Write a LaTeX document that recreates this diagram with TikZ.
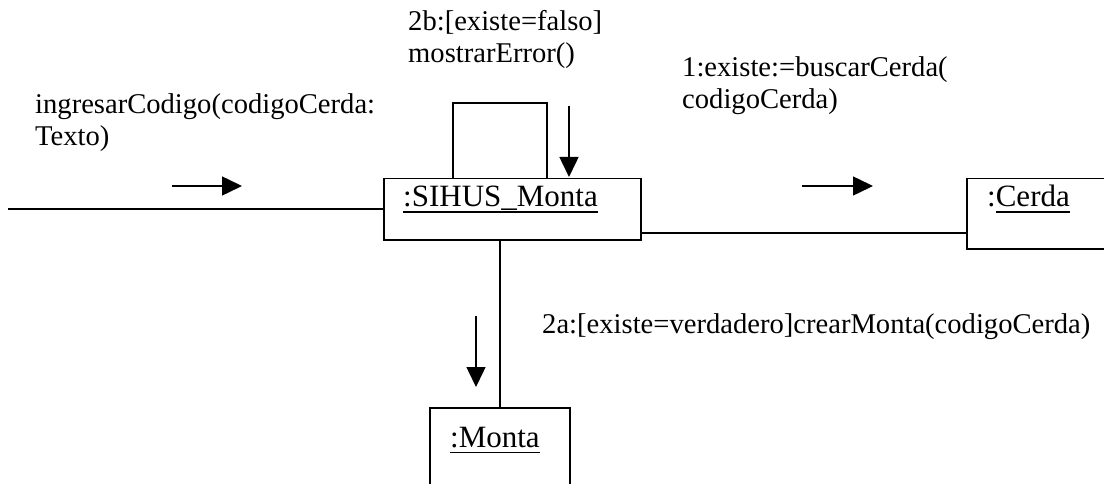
\documentclass[tikz,border=0pt]{standalone}
\usepackage{fontspec}
\setmainfont{Liberation Serif}
\usetikzlibrary{arrows.meta}
\newcommand\myul[1]{\setbox0\hbox{#1}\rlap{\rule[-6pt]{\wd0}{1.5pt}}\box0}
\tikzset{
  objbox/.style={draw, line width=1.5pt, inner sep=0pt, anchor=north west},
  link/.style={line width=1.5pt},
  msg/.style={line width=1.5pt, -{Triangle[length=20pt,width=19pt]}},
  lbl/.style={inner sep=0pt, anchor=base west, font=\fontsize{28.6pt}{32pt}\selectfont},
  objlbl/.style={inner sep=0pt, anchor=base west, font=\fontsize{31pt}{34pt}\selectfont},
}
\begin{document}
\begin{tikzpicture}[x=1pt,y=-1pt]
\useasboundingbox (0,0) rectangle (1104,484);
\clip (0,0) rectangle (1104,484);
\fill[white] (0,0) rectangle (1104,484);
% objects
\node[objbox, minimum width=257pt, minimum height=61pt] (sihus) at (383,178) {};
\node[objbox, minimum width=200pt, minimum height=70pt] (cerda) at (966,178) {};
\node[objbox, minimum width=140pt, minimum height=120pt] (monta) at (429,407) {};
\node[objlbl] (sihusT) at (403,207) {\myul{:SIHUS\_Monta}};
\node[objlbl] (cerdaT) at (987,207) {:\myul{Cerda}};
\node[objlbl] (montaT) at (450,447) {\myul{:Monta}};
% links
\coordinate (inL) at (8,209);
\draw[link] (inL) -- (inL -| sihus.west);
\draw[link] ([yshift=-23.5pt]sihus.east) coordinate (c1) -- (c1 -| cerda.west);
\draw[link] (monta.north) -- (monta.north |- sihus.south);
\draw[link] ([xshift=-59.5pt]sihus.north) -- ++(0pt,75pt) -| ([xshift=34.5pt]sihus.north);
% message arrows
\coordinate (m1a) at (172,186); \coordinate (m1b) at (242,186);
\coordinate (m2a) at (802,186); \coordinate (m2b) at (873,186);
\coordinate (m3a) at (569,106); \coordinate (m3b) at (569,177);
\coordinate (m4a) at (476,316); \coordinate (m4b) at (476,387);
\draw[msg] (m1a) -- (m1b);
\draw[msg] (m2a) -- (m2b);
\draw[msg] (m3a) -- (m3b);
\draw[msg] (m4a) -- (m4b);
% labels
\node[lbl] (l1) at (35,114) {\begin{tabular}[t]{@{}l@{}}ingresarCodigo(codigoCerda:\\Texto)\end{tabular}};
\node[lbl] (l2) at (408,31) {\begin{tabular}[t]{@{}l@{}}2b:[existe=falso]\\mostrarError()\end{tabular}};
\node[lbl] (l3) at (682,77) {\begin{tabular}[t]{@{}l@{}}1:existe:=buscarCerda(\\codigoCerda)\end{tabular}};
\node[lbl] (l4) at (542,333) {2a:[existe=verdadero]crearMonta(codigoCerda)};
\end{tikzpicture}
\end{document}
